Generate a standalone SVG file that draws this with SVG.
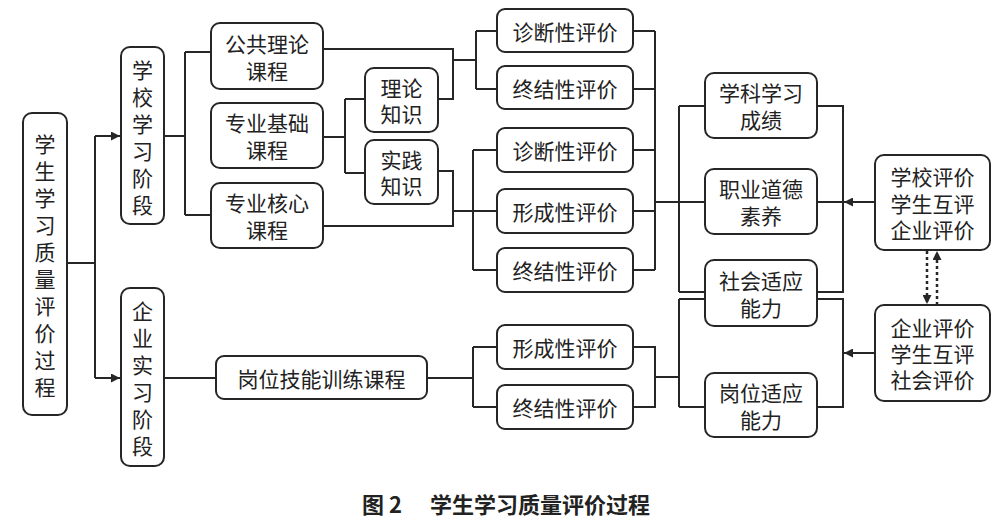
<svg xmlns="http://www.w3.org/2000/svg" width="1000" height="522" viewBox="0 0 1000 522">
<style>
.b{fill:#fff;stroke:#262626;stroke-width:2}
.t{font-family:"Noto Sans CJK SC","Noto Sans",sans-serif;font-size:21px;fill:#222;text-anchor:middle;dominant-baseline:central}
.c{fill:none;stroke:#262626;stroke-width:2}
.d{fill:none;stroke:#262626;stroke-width:2.5;stroke-dasharray:3 3}
.cap{font-family:"Noto Sans CJK SC","Noto Sans",sans-serif;font-size:22px;font-weight:bold;fill:#222;dominant-baseline:central}
</style>
<defs>
<marker id="ah" viewBox="0 0 10 10" refX="10" refY="5" markerWidth="9" markerHeight="9" markerUnits="userSpaceOnUse" orient="auto">
<path d="M0,0 L10,5 L0,10 z" fill="#262626"/>
</marker>
</defs>
<rect width="1000" height="522" fill="#fff"/>
<g id="connectors">
<path class="c" d="M67,263 H95 M95,136 V378"/>
<path class="c" d="M95,136 H120" marker-end="url(#ah)"/>
<path class="c" d="M95,378 H120" marker-end="url(#ah)"/>
<path class="c" d="M164,136 H185 M185,52 V215 M185,52 H211 M185,215 H211"/>
<path class="c" d="M323,49 H453 V99 H438 M453,60 H476 M476,31 V89 M476,31 H497 M476,89 H497"/>
<path class="c" d="M323,137 H345 M345,99 V173 M345,99 H365 M345,173 H365"/>
<path class="c" d="M438,171 H453 V226 H323 M453,211 H497 M473,150 V270 M473,150 H497 M473,270 H497"/>
<path class="c" d="M633,31 H655 M633,89 H655 M633,150 H655 M633,211 H655 M633,270 H655 M655,31 V270 M655,202 H705"/>
<path class="c" d="M679,106 V292 M679,106 H705 M679,292 H705"/>
<path class="c" d="M817,106 H843 V292 H817 M817,202 H843"/>
<path class="c" d="M875,202 H844" marker-end="url(#ah)"/>
<path class="c" d="M164,378 H216 M427,378 H473 M473,347 V407 M473,347 H497 M473,407 H497"/>
<path class="c" d="M633,347 H655 V407 H633 M655,377 H679 M679,299 V407 M679,299 H705 M679,407 H705"/>
<path class="c" d="M817,299 H843 V407 H817"/>
<path class="c" d="M875,353 H844" marker-end="url(#ah)"/>
<path class="d" d="M927,251 V304" marker-end="url(#ah)"/>
<path class="d" d="M937,305 V251" marker-end="url(#ah)"/>
</g>
<g id="root"><rect class="b" x="23" y="113" width="44" height="302" rx="9"/>
<text class="t"><tspan x="45" y="143">学</tspan><tspan x="45" y="170">生</tspan><tspan x="45" y="197">学</tspan><tspan x="45" y="224">习</tspan><tspan x="45" y="251">质</tspan><tspan x="45" y="278">量</tspan><tspan x="45" y="305">评</tspan><tspan x="45" y="332">价</tspan><tspan x="45" y="359">过</tspan><tspan x="45" y="386">程</tspan></text></g>
<g id="school"><rect class="b" x="121" y="47" width="43" height="177" rx="9"/>
<text class="t"><tspan x="142.5" y="69">学</tspan><tspan x="142.5" y="96">校</tspan><tspan x="142.5" y="123">学</tspan><tspan x="142.5" y="150">习</tspan><tspan x="142.5" y="177">阶</tspan><tspan x="142.5" y="204">段</tspan></text></g>
<g id="company"><rect class="b" x="121" y="288" width="43" height="178" rx="9"/>
<text class="t"><tspan x="142.5" y="310">企</tspan><tspan x="142.5" y="337">业</tspan><tspan x="142.5" y="364">实</tspan><tspan x="142.5" y="391">习</tspan><tspan x="142.5" y="418">阶</tspan><tspan x="142.5" y="445">段</tspan></text></g>
<g id="c1"><rect class="b" x="211" y="23" width="112" height="66" rx="9"/><text class="t"><tspan x="267" y="43">公共理论</tspan><tspan x="267" y="70">课程</tspan></text></g>
<g id="c2"><rect class="b" x="211" y="103" width="112" height="65" rx="9"/><text class="t"><tspan x="267" y="122">专业基础</tspan><tspan x="267" y="149">课程</tspan></text></g>
<g id="c3"><rect class="b" x="211" y="183" width="112" height="65" rx="9"/><text class="t"><tspan x="267" y="202">专业核心</tspan><tspan x="267" y="229">课程</tspan></text></g>
<g id="k1"><rect class="b" x="365" y="68" width="73" height="64" rx="9"/><text class="t"><tspan x="401.5" y="87">理论</tspan><tspan x="401.5" y="113">知识</tspan></text></g>
<g id="k2"><rect class="b" x="365" y="140" width="73" height="64" rx="9"/><text class="t"><tspan x="401.5" y="159">实践</tspan><tspan x="401.5" y="185">知识</tspan></text></g>
<g id="e1"><rect class="b" x="497" y="9" width="136" height="43" rx="8"/><text class="t" x="565" y="30.5">诊断性评价</text></g>
<g id="e2"><rect class="b" x="497" y="66" width="136" height="43" rx="8"/><text class="t" x="565" y="87.5">终结性评价</text></g>
<g id="e3"><rect class="b" x="497" y="128" width="136" height="44" rx="8"/><text class="t" x="565" y="150">诊断性评价</text></g>
<g id="e4"><rect class="b" x="497" y="189" width="136" height="44" rx="8"/><text class="t" x="565" y="211">形成性评价</text></g>
<g id="e5"><rect class="b" x="497" y="248" width="136" height="44" rx="8"/><text class="t" x="565" y="270">终结性评价</text></g>
<g id="e6"><rect class="b" x="497" y="325" width="136" height="44" rx="8"/><text class="t" x="565" y="347">形成性评价</text></g>
<g id="e7"><rect class="b" x="497" y="385" width="136" height="44" rx="8"/><text class="t" x="565" y="407">终结性评价</text></g>
<g id="g"><rect class="b" x="216" y="356" width="211" height="43" rx="8"/><text class="t" x="321.5" y="377.5">岗位技能训练课程</text></g>
<g id="o1"><rect class="b" x="705" y="73" width="112" height="65" rx="9"/><text class="t"><tspan x="761" y="92">学科学习</tspan><tspan x="761" y="119">成绩</tspan></text></g>
<g id="o2"><rect class="b" x="705" y="169" width="112" height="65" rx="9"/><text class="t"><tspan x="761" y="188">职业道德</tspan><tspan x="761" y="215">素养</tspan></text></g>
<g id="o3"><rect class="b" x="705" y="260" width="112" height="66" rx="9"/><text class="t"><tspan x="761" y="280">社会适应</tspan><tspan x="761" y="307">能力</tspan></text></g>
<g id="o4"><rect class="b" x="705" y="373" width="112" height="64" rx="9"/><text class="t"><tspan x="761" y="392">岗位适应</tspan><tspan x="761" y="419">能力</tspan></text></g>
<g id="r1"><rect class="b" x="875" y="155" width="115" height="95" rx="9"/><text class="t"><tspan x="932.5" y="176">学校评价</tspan><tspan x="932.5" y="202.5">学生互评</tspan><tspan x="932.5" y="229">企业评价</tspan></text></g>
<g id="r2"><rect class="b" x="875" y="305" width="115" height="96" rx="9"/><text class="t"><tspan x="932.5" y="327">企业评价</tspan><tspan x="932.5" y="353">学生互评</tspan><tspan x="932.5" y="379">社会评价</tspan></text></g>
<g id="caption"><text class="cap" x="362" y="503">图 2</text><text class="cap" x="430" y="503">学生学习质量评价过程</text></g>
</svg>
